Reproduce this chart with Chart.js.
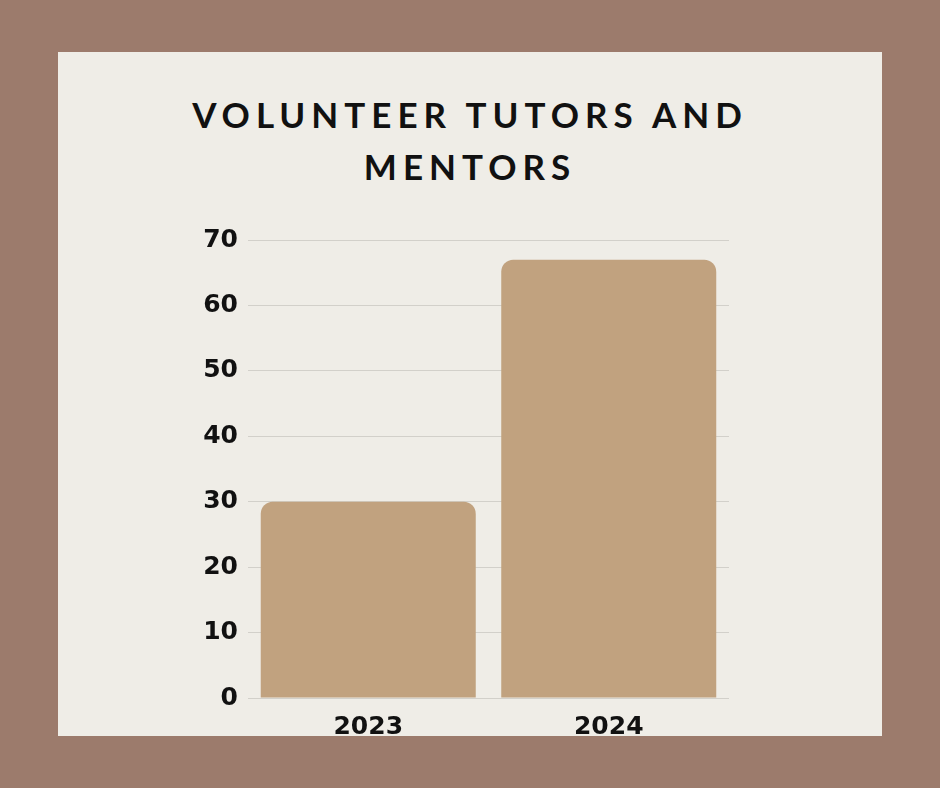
<!DOCTYPE html>
<html lang="en">
<head>
    <meta charset="UTF-8">
    <title>Volunteer Tutors and Mentors</title>
    <script src="https://cdn.jsdelivr.net/npm/chart.js"></script>
    <style>
        html, body {
            margin: 0;
            padding: 0;
        }

        body {
            width: 940px;
            height: 788px;
            background-color: #9c7b6c;
            position: relative;
            overflow: hidden;
        }

        .panel {
            position: absolute;
            left: 58px;
            top: 52px;
            width: 824px;
            height: 684px;
            background-color: #efede7;
        }

        h1 {
            position: absolute;
            left: 0;
            top: 88px;
            width: 940px;
            margin: 0;
            text-align: center;
            font-family: Lato, sans-serif;
            font-weight: 700;
            font-size: 35px;
            line-height: 52px;
            letter-spacing: 6px;
            color: #111;
        }

        .chart-box {
            position: absolute;
            left: 190px;
            top: 215px;
            width: 539px;
            height: 533px;
        }
    </style>
</head>
<body>
    <div class="panel"></div>
    <h1>VOLUNTEER TUTORS AND<br>MENTORS</h1>

    <div class="chart-box">
        <canvas id="chart"></canvas>
    </div>

    <script>
        const years = ['2023', '2024'];
        const tutors = [30, 67];
        const yTicks = [0, 10, 20, 30, 40, 50, 60, 70];

        const ctx = document.getElementById('chart').getContext('2d');
        const chart = new Chart(ctx, {
            type: 'bar',
            data: {
                labels: years,
                datasets: [
                    {
                        label: 'Volunteer tutors and mentors',
                        data: tutors,
                        backgroundColor: '#c1a27f',
                        borderRadius: 12,
                        barPercentage: 0.894,
                        categoryPercentage: 1
                    }
                ]
            },
            options: {
                animation: false,
                responsive: true,
                maintainAspectRatio: false,
                layout: {
                    padding: { top: 4, right: 0, bottom: 0, left: 0 }
                },
                plugins: {
                    legend: { display: false },
                    tooltip: { enabled: false }
                },
                scales: {
                    x: {
                        grid: { display: false },
                        border: { display: false },
                        ticks: {
                            color: '#111',
                            padding: 6,
                            font: { family: 'DejaVu Sans', weight: 'bold', size: 25 }
                        }
                    },
                    y: {
                        min: 0,
                        max: yTicks[yTicks.length - 1],
                        afterBuildTicks: (axis) => {
                            axis.ticks = yTicks.map(v => ({ value: v }));
                        },
                        afterFit: (axis) => {
                            axis.width = 58;
                        },
                        grid: { color: '#d2d0ca', lineWidth: 1, drawTicks: false },
                        border: { display: false },
                        ticks: {
                            color: '#111',
                            padding: 10,
                            font: { family: 'DejaVu Sans', weight: 'bold', size: 25 }
                        }
                    }
                }
            }
        });
    </script>
</body>
</html>
